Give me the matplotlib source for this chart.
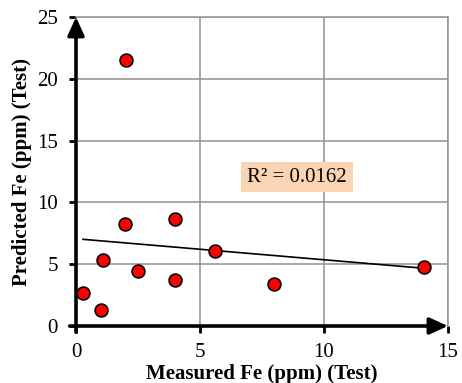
import numpy as np
import matplotlib
matplotlib.use("Agg")
import matplotlib.pyplot as plt

plt.rcParams['font.family'] = ['Liberation Serif', 'DejaVu Serif']

measured = [0.28, 1.0, 1.09, 1.99, 2.02, 2.49, 4.0, 4.0, 5.62, 8.0, 14.02]
predicted = [2.7, 1.27, 5.37, 8.23, 21.5, 4.47, 8.63, 3.7, 6.04, 3.42, 4.77]
x_ticks = [0, 5, 10, 15]
y_ticks = [0, 5, 10, 15, 20, 25]

fig = plt.figure(figsize=(4.62, 3.83), dpi=100)
ax = fig.add_axes([0.1645, 0.1488, 0.8052, 0.8068])

ax.set_xlim(0, 15)
ax.set_ylim(0, 25)
ax.set_xticks(x_ticks)
ax.set_yticks(y_ticks)
ax.grid(True, color='#999999', linewidth=1.2)
ax.set_axisbelow(True)

# linear trend line
x = np.array(measured)
y = np.array(predicted)
m, b = np.polyfit(x, y, 1)
xs = np.array([x.min(), x.max()])
ax.plot(xs, m * xs + b, color='black', linewidth=1.2, zorder=3)

ax.scatter(measured, predicted, s=85, color='#ff0000', edgecolors='black',
           linewidths=1.2, zorder=4)

ax.text(8.91, 12.05, 'R² = 0.0162', fontsize=15, ha='center', va='center',
        bbox=dict(boxstyle='square,pad=0.28', facecolor='#fbd4b4', edgecolor='none'),
        zorder=5)

for s in ['top', 'right']:
    ax.spines[s].set_color('#999999')
    ax.spines[s].set_linewidth(1.2)
for s in ['left', 'bottom']:
    ax.spines[s].set_visible(False)

# thick axes with arrowheads
arrow = dict(arrowstyle='-|>,head_width=0.5,head_length=1.1',
             color='black', linewidth=2.6, shrinkA=0, shrinkB=0)
ax.annotate('', xy=(0, 1.0), xytext=(0, -0.02), xycoords='axes fraction',
            arrowprops=arrow, annotation_clip=False, zorder=6)
ax.annotate('', xy=(1.0, 0), xytext=(-0.017, 0), xycoords='axes fraction',
            arrowprops=arrow, annotation_clip=False, zorder=6)

ax.tick_params(axis='both', labelsize=15, color='black', width=2, length=5,
               direction='out')
ax.tick_params(axis='x', pad=7)
ax.tick_params(axis='y', pad=8)

ax.set_xlabel('Measured Fe (ppm) (Test)', fontsize=15, fontweight='bold')
ax.set_ylabel('Predicted Fe (ppm) (Test)', fontsize=15, fontweight='bold')
ax.xaxis.set_label_coords(0.5, -0.124)
ax.yaxis.set_label_coords(-0.118, 0.5)

plt.savefig('out.png', dpi=100)
